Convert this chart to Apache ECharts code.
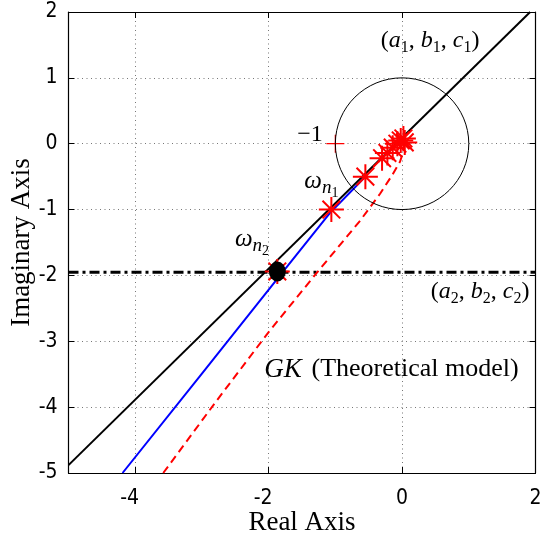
<!DOCTYPE html>
<html>
<head>
<meta charset="utf-8">
<script src="https://cdn.jsdelivr.net/npm/echarts@6/dist/echarts.min.js"></script>
<style>
  html, body { margin: 0; padding: 0; background: #fff; }
  #chart { width: 540px; height: 540px; }
</style>
</head>
<body>
<div id="chart"></div>
<script>
// Axis ranges and tick positions
const xRange = [-5, 2];
const yRange = [-5, 2];
const xTicks = [-4, -2, 0, 2];

// Straight reference line through (a1, b1, c1)
const refLine = [[-5, -4.88], [1.92, 2]];
// Measured frequency response (blue)
const measuredCurve = [[-4.19, -5], [-3.0, -3.49], [-1.79, -1.95], [-1.08, -1.05], [-0.8, -0.76], [-0.55, -0.5]];
// Theoretical model GK (red dashed)
const modelCurve = [[-3.58, -5], [-2.8, -3.93], [-2.0, -2.86], [-1.27, -1.95], [-0.63, -1.17],
                    [-0.33, -0.76], [-0.15, -0.48], [-0.03, -0.27], [0.02, -0.12]];
// Horizontal line through (a2, b2, c2)
const level2 = -1.95;
// Frequency samples marked with asterisks
const samplePoints = [[-1.06, -1.0], [-0.55, -0.5], [-1.87, -1.94], [-0.30, -0.22], [-0.22, -0.14],
                      [-0.14, -0.06], [-0.07, 0.0], [-0.02, 0.05], [0.02, 0.08], [0.04, 0.02]];
// Intersection point ω_n2
const crossPoint = [[-1.87, -1.94]];
// Critical point -1
const criticalPoint = [[-1, 0]];
// Unit circle: centre x, centre y, radius
const unitCircle = [[0, 0, 1]];
// Annotations: x, y, key
const notes = [[0.42, 1.57, 'abc1'], [-1.38, 0.13, 'minus1'], [-1.21, -0.58, 'wn1'],
               [-2.25, -1.46, 'wn2'], [1.17, -2.25, 'abc2'], [-0.16, -3.43, 'gk']];

const SERIF = '"Liberation Serif", "Times New Roman", serif';
const NARROW = '"Liberation Sans Narrow", "DejaVu Sans Condensed", "Liberation Sans", sans-serif';

const noteText = {
  abc1: '{r|(}{i|a}{s|1}{r|, }{i|b}{s|1}{r|, }{i|c}{s|1}{r|)}',
  abc2: '{r|(}{i|a}{s|2}{r|, }{i|b}{s|2}{r|, }{i|c}{s|2}{r|)}',
  minus1: '{r|\u22121}',
  wn1: '{w|\u03C9}{n|n}{ss|1}',
  wn2: '{w|\u03C9}{n|n}{ss|2}',
  gk: '{gi|GK} {g| (Theoretical model)}'
};

const rich = {
  r: { fontFamily: SERIF, fontSize: 24, color: '#000' },
  i: { fontFamily: SERIF, fontSize: 24, fontStyle: 'italic', color: '#000' },
  s: { fontFamily: SERIF, fontSize: 16, color: '#000', padding: [14, 0, 0, 0] },
  w: { fontFamily: SERIF, fontSize: 25, fontStyle: 'italic', color: '#000' },
  n: { fontFamily: SERIF, fontSize: 19, fontStyle: 'italic', color: '#000', padding: [12, 0, 0, 0] },
  ss: { fontFamily: SERIF, fontSize: 14, color: '#000', padding: [22, 0, 0, 0] },
  gi: { fontFamily: SERIF, fontSize: 27, fontStyle: 'italic', color: '#000' },
  g: { fontFamily: SERIF, fontSize: 26, color: '#000' }
};

const dotted = { show: true, lineStyle: { color: '#777', width: 1, type: [1, 3.5] } };
const inTick = { show: true, inside: true, length: 6, lineStyle: { color: '#000', width: 1 } };
const boxLine = { show: true, onZero: false, lineStyle: { color: '#000', width: 1.2 } };

const asterisk = 'path://M0,-10L0,10M-10,0L10,0M-7.07,-7.07L7.07,7.07M-7.07,7.07L7.07,-7.07';
const plus = 'path://M0,-10L0,10M-10,0L10,0';

const chart = echarts.init(document.getElementById('chart'), null, { renderer: 'canvas' });

chart.setOption({
  animation: false,
  backgroundColor: '#fff',
  grid: { left: 68.5, right: 4.5, top: 12, bottom: 67, outerBoundsMode: 'none', containLabel: false },
  xAxis: [{
    type: 'value', min: xRange[0], max: xRange[1], position: 'bottom',
    axisLine: boxLine,
    axisTick: Object.assign({ customValues: xTicks }, inTick),
    splitLine: dotted,
    axisLabel: {
      customValues: xTicks, color: '#000', fontFamily: NARROW, fontSize: 21, margin: 15,
      formatter: v => v < 0 ? '{neg|' + v + '}' : String(v),
      rich: { neg: { fontFamily: NARROW, fontSize: 21, color: '#000', padding: [0, 11, 0, 0] } }
    },
    name: 'Real Axis', nameLocation: 'middle', nameGap: 36, nameMoveOverlap: false,
    nameTextStyle: { fontFamily: SERIF, fontSize: 27, color: '#000' }
  }, {
    type: 'value', min: xRange[0], max: xRange[1], position: 'top',
    axisLine: boxLine,
    axisTick: Object.assign({ customValues: xTicks }, inTick),
    axisLabel: { show: false }, splitLine: { show: false }
  }],
  yAxis: [{
    type: 'value', min: yRange[0], max: yRange[1], interval: 1, position: 'left',
    axisLine: boxLine, axisTick: inTick, splitLine: dotted,
    axisLabel: { color: '#000', fontFamily: NARROW, fontSize: 21, margin: 11 },
    name: 'Imaginary Axis', nameLocation: 'middle', nameGap: 33, nameMoveOverlap: false,
    nameTextStyle: { fontFamily: SERIF, fontSize: 27, color: '#000' }
  }, {
    type: 'value', min: yRange[0], max: yRange[1], interval: 1, position: 'right',
    axisLine: boxLine, axisTick: inTick,
    axisLabel: { show: false }, splitLine: { show: false }
  }],
  series: [
    {
      name: 'level', type: 'line', silent: true, symbol: 'none', z: 3,
      data: [[xRange[0], level2], [xRange[1], level2]],
      lineStyle: { color: '#000', width: 3, type: [10, 4, 3, 4] }
    },
    {
      name: 'model', type: 'line', silent: true, symbol: 'none', z: 4,
      data: modelCurve,
      lineStyle: { color: '#ff0000', width: 2, type: [8, 5] }
    },
    {
      name: 'measured', type: 'line', silent: true, symbol: 'none', z: 4,
      data: measuredCurve,
      lineStyle: { color: '#0000ff', width: 2 }
    },
    {
      name: 'reference', type: 'line', silent: true, symbol: 'none', z: 5,
      data: refLine,
      lineStyle: { color: '#000', width: 2 }
    },
    {
      name: 'critical', type: 'scatter', silent: true, z: 5,
      data: criticalPoint, symbol: plus, symbolSize: 18,
      itemStyle: { color: 'none', borderColor: '#ff0000', borderWidth: 1.3, opacity: 1 }
    },
    {
      name: 'circle', type: 'custom', silent: true, z: 6,
      data: unitCircle,
      renderItem: function (params, api) {
        const c = api.coord([api.value(0), api.value(1)]);
        const s = api.size([api.value(2), api.value(2)]);
        return {
          type: 'ellipse',
          shape: { cx: c[0], cy: c[1], rx: s[0], ry: s[1] },
          style: { fill: 'none', stroke: '#000', lineWidth: 1 }
        };
      }
    },
    {
      name: 'samples', type: 'scatter', silent: true, z: 7,
      data: samplePoints, symbol: asterisk, symbolSize: 25,
      itemStyle: { color: 'none', borderColor: '#ff0000', borderWidth: 2, opacity: 1 }
    },
    {
      name: 'cross', type: 'scatter', silent: true, z: 8,
      data: crossPoint, symbol: 'circle', symbolSize: [17, 20],
      itemStyle: { color: '#000', opacity: 1 }
    },
    {
      name: 'notes', type: 'scatter', silent: true, z: 9,
      data: notes, symbolSize: 0,
      itemStyle: { opacity: 1 },
      label: {
        show: true, position: 'inside', color: '#000',
        formatter: p => noteText[p.value[2]], rich: rich
      }
    }
  ]
});
</script>
</body>
</html>
